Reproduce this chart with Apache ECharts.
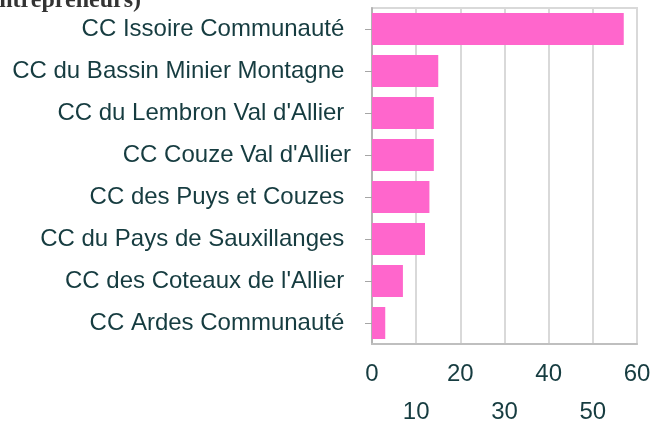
<!DOCTYPE html>
<html>
<head>
<meta charset="utf-8">
<script src="https://cdn.jsdelivr.net/npm/echarts@6/dist/echarts.min.js"></script>
<style>
  html, body { margin: 0; padding: 0; background: #fff; }
  #chart { width: 652px; height: 421px; }
</style>
</head>
<body>
<div id="chart"></div>
<script>
// EPCI (top to bottom) and number of entrepreneurs
const categories = [
  'CC Issoire Communauté ',
  'CC du Bassin Minier Montagne ',
  "CC du Lembron Val d'Allier ",
  "CC Couze Val d'Allier",
  'CC des Puys et Couzes ',
  'CC du Pays de Sauxillanges ',
  "CC des Coteaux de l'Allier ",
  'CC Ardes Communauté '
];
const values = [57, 15, 14, 14, 13, 12, 7, 3];
const xTicks = [0, 10, 20, 30, 40, 50, 60];

const chart = echarts.init(document.getElementById('chart'));
const textColor = '#163c40';

const option = {
  animation: false,
  title: {
    text: "(nombre d'entrepreneurs)",
    left: -130,
    top: -16,
    textStyle: {
      fontFamily: 'Liberation Serif',
      fontWeight: 'bold',
      fontSize: 24,
      color: '#333'
    }
  },
  grid: {
    left: 372,
    right: 15,
    top: 8,
    bottom: 77,
    outerBoundsMode: 'none',
    containLabel: false,
    show: true,
    borderColor: '#d9d9d9',
    borderWidth: 2
  },
  xAxis: {
    type: 'value',
    min: xTicks[0],
    max: xTicks[xTicks.length - 1],
    interval: 10,
    axisLine: { show: true, lineStyle: { color: '#bfbfbf', width: 2 } },
    axisTick: { show: false },
    splitLine: { show: true, lineStyle: { color: '#d9d9d9', width: 2 } },
    axisLabel: {
      margin: 11,
      fontFamily: 'Liberation Sans',
      fontSize: 24,
      lineHeight: 38,
      color: textColor,
      // staggered labels: odd ticks on a second row
      formatter: function (v) {
        const i = xTicks.indexOf(v);
        return i % 2 === 1 ? '\n' + v : String(v);
      }
    }
  },
  yAxis: {
    type: 'category',
    inverse: true,
    data: categories,
    axisLine: { show: true, lineStyle: { color: '#b3b3b3', width: 2 } },
    axisTick: { show: true, alignWithLabel: true, length: 7, lineStyle: { color: '#a6a6a6', width: 1 } },
    axisLabel: {
      margin: 21,
      fontFamily: 'Liberation Sans',
      fontSize: 24,
      color: textColor
    }
  },
  series: [{
    type: 'bar',
    data: values,
    barWidth: 32,
    itemStyle: { color: '#ff66cc' }
  }]
};

chart.setOption(option);
</script>
</body>
</html>
